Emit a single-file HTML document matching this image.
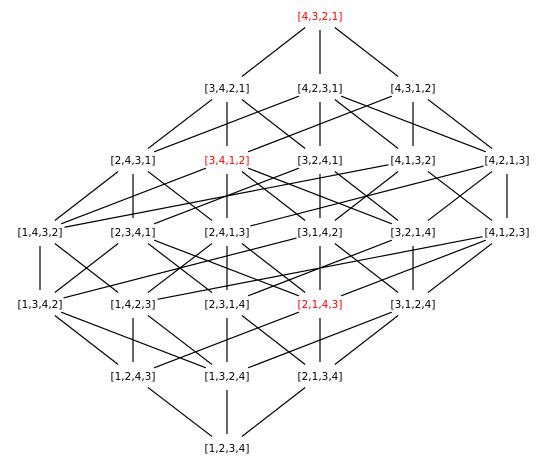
<!DOCTYPE html>
<html><head><meta charset="utf-8"><style>
html,body{margin:0;padding:0;background:#fff;}
svg{display:block;}
text{font-family:"DejaVu Sans","Liberation Sans",sans-serif;font-size:10.5px;}
</style></head><body>
<svg id="chart" width="547" height="467"></svg>
<script>
const labels = [
 [4,3,2,1],
 [3,4,2,1],[4,2,3,1],[4,3,1,2],
 [2,4,3,1],[3,4,1,2],[3,2,4,1],[4,1,3,2],[4,2,1,3],
 [1,4,3,2],[2,3,4,1],[2,4,1,3],[3,1,4,2],[3,2,1,4],[4,1,2,3],
 [1,3,4,2],[1,4,2,3],[2,3,1,4],[2,1,4,3],[3,1,2,4],
 [1,2,4,3],[1,3,2,4],[2,1,3,4],
 [1,2,3,4]
];
const highlighted = ["4321","3412","2143"];
const rowY = [16,88,160,232,304,376,448];
const rowX = [[320],[227,320,413],[133,227,320,413,507],[40,133,227,320,413,507],[40,133,227,320,413],[133,227,320],[227]];
const svg = document.getElementById('chart');
const NS = "http://www.w3.org/2000/svg";
const RX = 26, RY = 14;
const pos = {};
let k = 0;
rowX.forEach((xs, r) => xs.forEach(x => { pos[labels[k].join('')] = [x, rowY[r]]; k++; }));
function inv(p){let c=0;for(let i=0;i<4;i++)for(let j=i+1;j<4;j++)if(p[i]>p[j])c++;return c;}
function clip(dx,dy){const L=Math.hypot(dx,dy);const ux=dx/L,uy=dy/L;const t=1/Math.sqrt((ux/RX)**2+(uy/RY)**2);return [ux*t,uy*t];}
labels.forEach(w => {
  for (let i=0;i<4;i++) for (let j=i+1;j<4;j++) {
    if (w[i] <= w[j]) continue;
    let ok = true;
    for (let m=i+1;m<j;m++) if (w[m] > w[j] && w[m] < w[i]) ok = false;
    if (!ok) continue;
    const v = w.slice(); v[i]=w[j]; v[j]=w[i];
    if (inv(v) !== inv(w)-1) continue;
    const a = pos[w.join('')], b = pos[v.join('')];
    const c = clip(b[0]-a[0], b[1]-a[1]);
    const l = document.createElementNS(NS,'line');
    
    
    l.setAttribute('x1',a[0]+c[0]); l.setAttribute('y1',a[1]+c[1]);
    l.setAttribute('x2',b[0]-c[0]); l.setAttribute('y2',b[1]-c[1]);
    l.setAttribute('stroke','#000'); l.setAttribute('stroke-width','1.2');
    svg.appendChild(l);
  }
});
labels.forEach(w => {
  const key = w.join(''), p = pos[key];
  const t = document.createElementNS(NS,'text');
  
  
  t.setAttribute('x',p[0]); t.setAttribute('y',p[1]+4);
  t.setAttribute('text-anchor','middle');
  t.setAttribute('fill', highlighted.includes(key) ? '#ff0000' : '#000');
  t.textContent = '[' + w.join(',') + ']';
  svg.appendChild(t);
});
</script>
</body></html>
